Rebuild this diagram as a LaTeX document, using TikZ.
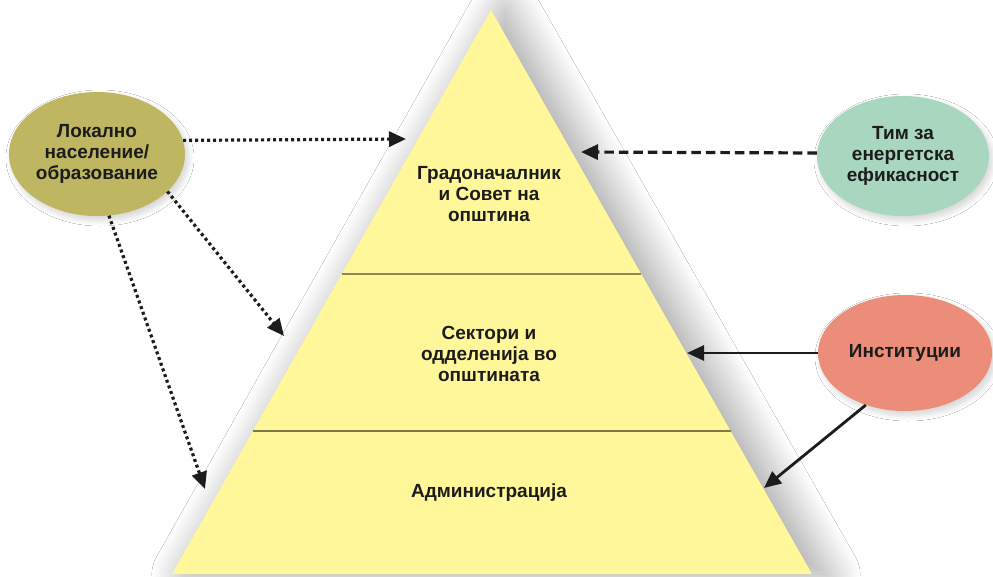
\documentclass[tikz,border=0pt]{standalone}
\usepackage{fontspec}
\setmainfont{Liberation Sans}
\usetikzlibrary{arrows.meta,shapes.geometric,calc,shadows.blur}
\definecolor{pyr}{RGB}{255,247,153}
\definecolor{divider}{RGB}{140,136,80}
\definecolor{olive}{RGB}{190,182,96}
\definecolor{mint}{RGB}{168,214,190}
\definecolor{salmon}{RGB}{236,141,121}
\definecolor{ink}{RGB}{28,28,28}
\begin{document}
\begin{tikzpicture}[x=1pt,y=-1pt,
  lbl/.style={font=\bfseries\fontsize{19}{21}\selectfont, align=center, text=ink},
  oval/.style={ellipse, inner sep=0pt, lbl,
    blur shadow={shadow xshift=3pt, shadow yshift=-4pt, shadow blur radius=6pt, shadow opacity=18, shadow blur steps=16}},
  tip/.style={-{Triangle[length=17pt,width=15pt]}, color=ink},
  dotline/.style={tip, line width=3.2pt, dash pattern=on 3pt off 3pt},
  dashline/.style={tip, line width=3.2pt, dash pattern=on 9.5pt off 5pt},
  solidline/.style={tip, line width=2.8pt}
]
\useasboundingbox[fill=white] (0,0) rectangle (993,576);

% pyramid
\coordinate (A) at (491,10);
\coordinate (BL) at (172,574);
\coordinate (BR) at (812,574);
\path[fill=pyr, blur shadow={shadow xshift=14pt, shadow yshift=0pt, shadow blur radius=34pt, shadow opacity=38, shadow blur steps=40}]
  (A) -- (BL) -- (BR) -- cycle;
\coordinate (L1) at ($(A)!0.468!(BL)$);
\coordinate (R1) at ($(A)!0.468!(BR)$);
\coordinate (L2) at ($(A)!0.7465!(BL)$);
\coordinate (R2) at ($(A)!0.7465!(BR)$);
\draw[line width=2pt, divider] (L1) -- (R1);
\draw[line width=1.5pt, divider!90!black] (L2) -- (R2);

\node[lbl] (mayor) at (489,194) {Градоначалник\\и Совет на\\општина};
\node[lbl] (sect) at (489,354) {Сектори и\\одделенија во\\општината};
\node[lbl] (adm) at (489,493) {Администрација};

% ellipses
\node[oval, fill=olive, minimum width=176pt, minimum height=124pt] (loc) at (97,154) {Локално\\население/\\образование};
\node[oval, fill=mint, minimum width=172pt, minimum height=120pt] (tim) at (903,156) {Тим за\\енергетска\\ефикасност};
\node[oval, fill=salmon, minimum width=174pt, minimum height=116pt] (inst) at (905,353) {Институции};

% targets
\coordinate (t1) at (406,139);
\coordinate (t2) at (284,336);
\coordinate (t3) at (205,489);
\coordinate (t4) at (581,152);
\coordinate (t5) at (687,353);
\coordinate (t6) at (764,488);

\draw[dotline] (loc.9.6) -- (t1);
\draw[dotline] (loc.-28) -- (t2);
\draw[dotline] (loc.-79.4) -- (t3);
\draw[dashline] (tim.178.5) -- (t4);
\draw[solidline] (inst.west) -- (t5);
\draw[solidline] (inst.233.8) -- (t6);
\end{tikzpicture}
\end{document}
